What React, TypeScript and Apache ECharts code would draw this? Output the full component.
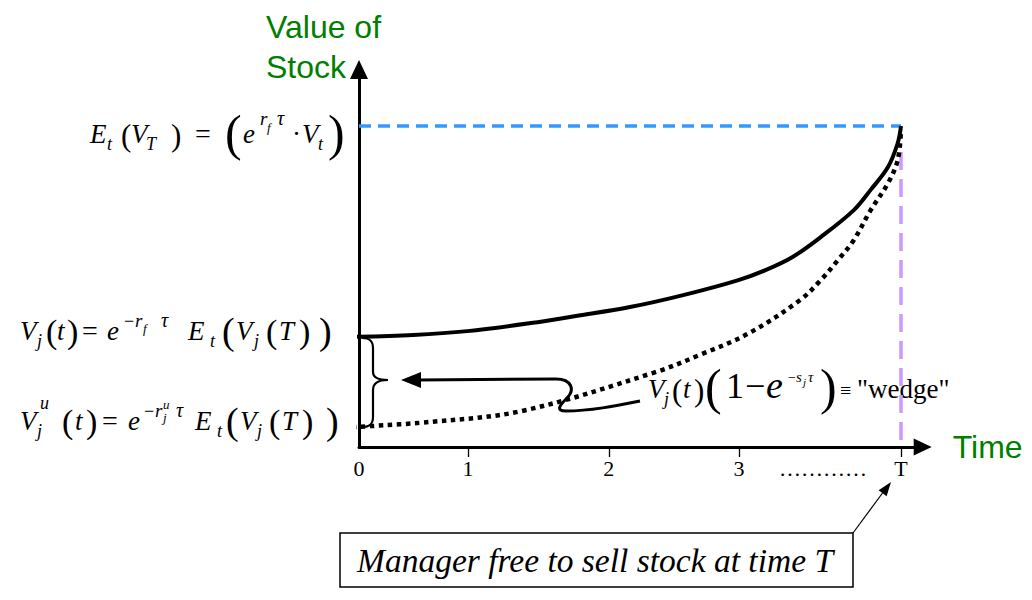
import React, { useEffect, useRef } from 'react';
import * as echarts from 'echarts';

// ---------------- data ----------------
// time axis: 0 at the origin, T = 10
const horizonT = 10;
const solidX = [-0.13, 1.0, 2.0, 3.17, 4.0, 5.0, 6.0, 7.0, 7.5, 8.0, 8.52, 9.13, 9.44, 9.76, 9.94, 10];
const solidY = [34.3, 34.9, 36.1, 38.6, 40.8, 43.6, 47.4, 52.0, 55.1, 59.2, 65.4, 73.8, 80.1, 87.2, 94.7, 100];
const dottedX = [-0.13, 1.31, 3.0, 5.43, 6.29, 7.2, 8.14, 8.52, 8.84, 9.13, 9.44, 9.76, 9.94, 10];
const dottedY = [6.2, 7.8, 11.2, 23.1, 28.7, 35.5, 45.8, 52.0, 58.3, 64.5, 73.8, 82.2, 89.4, 98.8];
const expectedLevel = 100; // E_t(V_T)
const purpleTop = 91.9;
const tickValues = [2.01, 4.61, 7.01, 10];
const labelValues = [0, 2.01, 4.61, 7.01, 8.56, 10];
const labelTexts = ['0', '1', '2', '3', '…………', 'T'];

const SERIF = '"Liberation Serif", "Times New Roman", serif';
const SANS = '"Liberation Sans", Arial, sans-serif';
const GREEN = '#007f00';

// formula glyphs: [text, left x, baseline y, font size, italic]
type G = [string, number, number, number, boolean?];
const I = true;

const F1: G[] = [
  ['E', 90, 143, 27, I], ['t', 107, 150, 18, I], ['(', 121, 146, 31],
  ['V', 131, 143, 27, I], ['T', 146, 150, 18, I], [')', 171, 146, 31],
  ['=', 195, 143, 28], ['(', 225, 150, 50], ['e', 243, 143, 27, I],
  ['r', 260, 125, 19, I], ['f', 267, 132, 13, I], ['τ', 277, 125, 20, I],
  ['·', 292, 143, 27], ['V', 302, 143, 27, I], ['t', 318, 150, 18, I], [')', 328, 150, 50],
];
const F2: G[] = [
  ['V', 20, 340, 27, I], ['j', 37, 347, 18, I], ['(', 46, 343, 34], ['t', 57, 340, 27, I],
  [')', 67, 343, 34], ['=', 82, 340, 28], ['e', 107, 340, 27, I], ['−', 124, 327, 18],
  ['r', 135, 327, 19, I], ['f', 143, 333, 13, I], ['τ', 161, 327, 20, I],
  ['E', 188, 340, 27, I], ['t', 210, 347, 18, I], ['(', 222, 344, 38], ['V', 236, 340, 27, I],
  ['j', 254, 347, 18, I], ['(', 266, 343, 34], ['T', 279, 340, 27, I], [')', 299, 343, 34],
  [')', 319, 344, 38],
];
const F3: G[] = [
  ['V', 20, 430, 27, I], ['u', 40, 409, 18, I], ['j', 37, 437, 18, I], ['(', 62, 433, 34],
  ['t', 75, 430, 27, I], [')', 86, 433, 34], ['=', 102, 430, 28], ['e', 128, 430, 27, I],
  ['−', 144, 417, 18], ['r', 155, 417, 19, I], ['u', 163, 409, 13, I], ['j', 163, 422, 13, I],
  ['τ', 176, 417, 20, I], ['E', 195, 430, 27, I], ['t', 217, 437, 18, I], ['(', 226, 434, 38],
  ['V', 240, 430, 27, I], ['j', 257, 437, 18, I], ['(', 269, 433, 34], ['T', 282, 430, 27, I],
  [')', 302, 433, 34], [')', 326, 434, 38],
];
const F4: G[] = [
  ['V', 648, 398, 27, I], ['j', 664, 405, 18, I], ['(', 672, 401, 31], ['t', 683, 398, 27, I],
  [')', 694, 401, 31], ['(', 705, 404, 50], ['1', 726, 398, 36], ['−', 745, 398, 36],
  ['e', 766, 398, 38, I], ['−', 788, 382, 14], ['s', 796, 382, 15, I], ['j', 803, 386, 11, I],
  ['τ', 808, 382, 15, I], [')', 820, 404, 50], ['≡', 840, 397, 20], ['"wedge"', 857, 398, 27],
];

const bracePath =
  'M362 338 C370 338 373 341 373 348 L373 372 C373 378 378 380 388 380 C378 380 373 383 373 390 L373 417 C373 424 370 427 362 427';
const connectorPath =
  'M418 380 L556 379 C572 379 575 390 567 398 C560 405 555 411 566 411 C590 411 615 406 640 401';

function glyphs(list: G[]) {
  return list.map(([s, x, b, z, it]) => ({
    type: 'text',
    silent: true,
    x,
    y: b - 0.3375 * z,
    style: {
      text: s,
      font: `${it ? 'italic ' : ''}${z}px ${SERIF}`,
      fill: '#000',
      textAlign: 'left',
      textVerticalAlign: 'middle',
    },
  }));
}

export default function App() {
  const ref = useRef<HTMLDivElement>(null);
  useEffect(() => {
    echarts.graphic.registerShape('brace', echarts.graphic.extendPath(bracePath, {}));
    echarts.graphic.registerShape('wedgeArrow', echarts.graphic.extendPath(connectorPath, {}));
    const chart = echarts.init(ref.current!, null, { renderer: 'svg' });

    const graphics: any[] = [
      ...glyphs(F1),
      ...glyphs(F2),
      ...glyphs(F3),
      ...glyphs(F4),
      {
        type: 'text', silent: true, x: 266, y: 38 - 11.1,
        style: { text: 'Value of', font: `32px ${SANS}`, fill: GREEN, textVerticalAlign: 'middle' },
      },
      {
        type: 'text', silent: true, x: 266, y: 78 - 11.1,
        style: { text: 'Stock', font: `32px ${SANS}`, fill: GREEN, textVerticalAlign: 'middle' },
      },
      { type: 'brace', silent: true, style: { fill: 'none', stroke: '#000', lineWidth: 2.2 } },
      { type: 'wedgeArrow', silent: true, style: { fill: 'none', stroke: '#000', lineWidth: 3 } },
      { type: 'polygon', silent: true, shape: { points: [[401, 380], [421, 372], [421, 388]] }, style: { fill: '#000' } },
      {
        type: 'rect', silent: true, shape: { x: 340, y: 533, width: 513, height: 54 },
        style: { fill: '#fff', stroke: '#000', lineWidth: 1.5 },
      },
      {
        type: 'text', silent: true, x: 357, y: 560,
        style: { text: 'Manager free to sell stock at time T', font: `italic 33.5px ${SERIF}`, fill: '#000', textVerticalAlign: 'middle' },
      },
      { type: 'line', silent: true, shape: { x1: 853, y1: 533, x2: 884, y2: 491 }, style: { stroke: '#000', lineWidth: 1.2 } },
      { type: 'polygon', silent: true, shape: { points: [[891, 482], [886.6, 496.2], [878.6, 490.2]] }, style: { fill: '#000' } },
    ];

    const option: any = {
      animation: false,
      backgroundColor: '#fff',
      grid: { left: 359, right: 109.32, top: 69.5, bottom: 153 },
      xAxis: {
        type: 'value', min: 0, max: 10.4,
        name: 'Time', nameLocation: 'end', nameGap: 30,
        nameTextStyle: { color: GREEN, fontSize: 32, fontFamily: SANS, verticalAlign: 'middle', padding: [16, 0, 0, 0] },
        axisLine: { show: true, onZero: false, symbol: ['none', 'triangle'], symbolSize: [17, 18], lineStyle: { color: '#000', width: 3 } },
        axisTick: { show: true, customValues: tickValues, length: 10, lineStyle: { color: '#000', width: 1.3 } },
        axisLabel: {
          show: true, customValues: labelValues, margin: 10,
          color: '#000', fontSize: 22, fontFamily: SERIF,
          formatter: (v: number) => {
            const i = labelValues.findIndex((lv) => Math.abs(lv - v) < 1e-6);
            return i >= 0 ? labelTexts[i] : '';
          },
        },
        splitLine: { show: false },
      },
      yAxis: {
        type: 'value', min: 0, max: 117.6,
        axisLine: { show: true, onZero: false, symbol: ['none', 'triangle'], symbolSize: [18, 19], lineStyle: { color: '#000', width: 3 } },
        axisTick: { show: false },
        axisLabel: { show: false },
        splitLine: { show: false },
      },
      series: [
        {
          type: 'line', name: 'E_t(V_T)', silent: true, symbol: 'none', z: 1,
          data: [[0, expectedLevel], [horizonT, expectedLevel]],
          lineStyle: { color: '#3399FF', width: 3.5, type: [12, 7] },
        },
        {
          type: 'line', name: 'T', silent: true, symbol: 'none', z: 1,
          data: [[horizonT, purpleTop], [horizonT, 0]],
          lineStyle: { color: '#CC99FF', width: 3.5, type: [18, 9] },
        },
        {
          type: 'line', name: 'V_j(t)', silent: true, symbol: 'none', z: 3, clip: false,
          smooth: 0.35,
          data: solidX.map((x, i) => [x, solidY[i]]),
          lineStyle: { color: '#000', width: 4 },
        },
        {
          type: 'line', name: 'V_j^u(t)', silent: true, symbol: 'none', z: 3, clip: false,
          smooth: 0.35,
          data: dottedX.map((x, i) => [x, dottedY[i]]),
          lineStyle: { color: '#000', width: 4.5, type: [4.5, 4.5], cap: 'butt' },
        },
      ],
      graphic: { elements: graphics },
    };
    chart.setOption(option);
    return () => chart.dispose();
  }, []);
  return (
    <div
      ref={ref}
      style={{ position: 'absolute', left: 0, top: 0, width: 1032, height: 600, background: '#fff' }}
    />
  );
}
